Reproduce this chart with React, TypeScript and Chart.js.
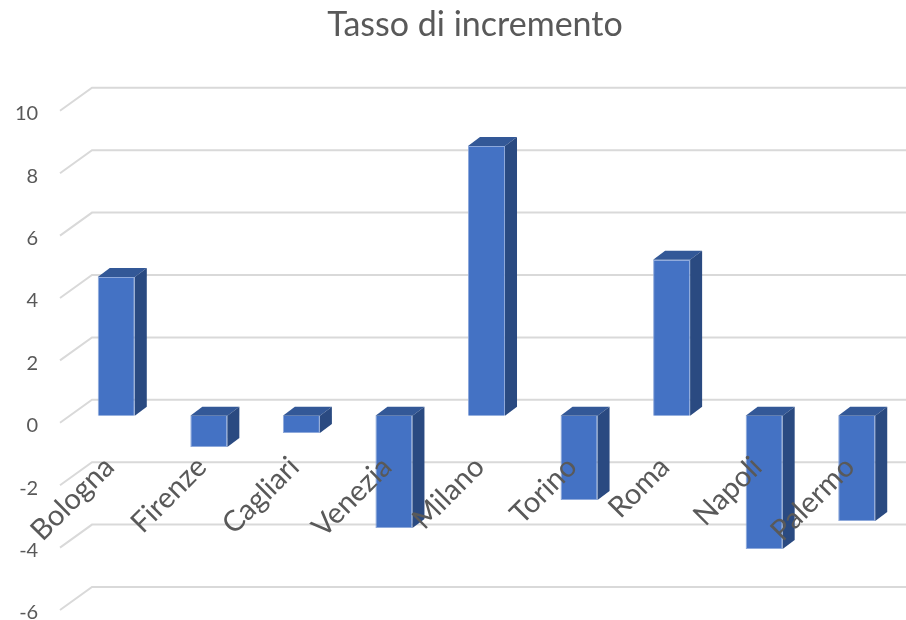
import React, { useEffect, useRef } from 'react';
import { Chart, registerables } from 'chart.js';

Chart.register(...registerables);

const chartTitle = 'Tasso di incremento';
const categories = ['Bologna', 'Firenze', 'Cagliari', 'Venezia', 'Milano', 'Torino', 'Roma', 'Napoli', 'Palermo'];
const values = [4.45, -1.0, -0.55, -3.6, 8.65, -2.7, 5.0, -4.27, -3.37];
const yTicks = [-6, -4, -2, 0, 2, 4, 6, 8, 10];

const FRONT = '#4472C4';
const TOP = '#335897';
const SIDE = '#2A4A81';
const GRID = '#D9D9D9';
const TEXT = '#595959';
const DEPTH_X = 12;
const DEPTH_Y = 9;

const threeD = {
  id: 'threeD',
  beforeDatasetsDraw(chart: any) {
    const ctx = chart.ctx;
    const ys = chart.scales.y;
    const left = chart.chartArea.left;
    ctx.save();
    ctx.strokeStyle = GRID;
    ctx.lineWidth = 2;
    for (const v of yTicks) {
      const py = ys.getPixelForValue(v);
      ctx.beginPath();
      ctx.moveTo(left - 10, py + 7);
      ctx.lineTo(left + 22, py - 16);
      ctx.lineTo(chart.width, py - 16);
      ctx.stroke();
    }
    ctx.restore();
  },
  afterDatasetsDraw(chart: any) {
    const ctx = chart.ctx;
    const meta = chart.getDatasetMeta(0);
    ctx.save();
    meta.data.forEach((bar: any) => {
      const { x, y, base, width } = bar.getProps(['x', 'y', 'base', 'width'], true);
      const l = x - width / 2;
      const r = x + width / 2;
      const t = Math.min(y, base);
      const b = Math.max(y, base);
      ctx.fillStyle = TOP;
      ctx.beginPath();
      ctx.moveTo(l, t);
      ctx.lineTo(l + DEPTH_X, t - DEPTH_Y);
      ctx.lineTo(r + DEPTH_X, t - DEPTH_Y);
      ctx.lineTo(r, t);
      ctx.closePath();
      ctx.fill();
      ctx.fillStyle = SIDE;
      ctx.beginPath();
      ctx.moveTo(r, t);
      ctx.lineTo(r + DEPTH_X, t - DEPTH_Y);
      ctx.lineTo(r + DEPTH_X, b - DEPTH_Y);
      ctx.lineTo(r, b);
      ctx.closePath();
      ctx.fill();
    });
    ctx.restore();
  },
};

export default function App() {
  const ref = useRef<HTMLCanvasElement | null>(null);
  useEffect(() => {
    if (!ref.current) return;
    const chart = new Chart(ref.current, {
      type: 'bar',
      data: {
        labels: categories,
        datasets: [
          {
            data: values,
            backgroundColor: FRONT,
            borderColor: 'rgba(130,160,215,0.9)',
            borderWidth: 1,
            barPercentage: 0.4,
            categoryPercentage: 1,
          },
        ],
      },
      options: {
        responsive: false,
        animation: false,
        layout: { padding: { left: 47, right: 3, top: 0, bottom: 17 } },
        plugins: {
          legend: { display: false },
          tooltip: { enabled: false },
          title: {
            display: true,
            text: chartTitle,
            color: TEXT,
            font: { family: 'Lato', size: 34, weight: 'normal' },
            padding: { top: 5, bottom: 58 },
          },
        },
        scales: {
          x: {
            position: { y: 0 } as any,
            grid: { display: false },
            border: { display: false },
            ticks: {
              z: 1,
              color: TEXT,
              font: { family: 'Lato', size: 29 },
              minRotation: 45,
              maxRotation: 45,
              autoSkip: false,
              padding: 26,
              labelOffset: -7,
            },
            afterFit: (s: any) => {
              s.height = 0;
              s.paddingLeft = 0;
              s.paddingRight = 0;
            },
          },
          y: {
            min: -6,
            max: 10,
            grid: { display: false },
            border: { display: false },
            ticks: {
              stepSize: 2,
              color: TEXT,
              font: { family: 'Lato', size: 20 },
              mirror: true,
              crossAlign: 'far',
              padding: -55,
              labelOffset: 10,
            },
            afterFit: (s: any) => {
              s.width = 23;
              s.paddingTop = 0;
              s.paddingBottom = 0;
            },
          },
        },
      },
      plugins: [threeD],
    });
    return () => chart.destroy();
  }, []);
  return (
    <div style={{ position: 'absolute', left: 0, top: 0, width: 906, height: 620, background: '#fff' }}>
      <canvas ref={ref} width={906} height={620} />
    </div>
  );
}
